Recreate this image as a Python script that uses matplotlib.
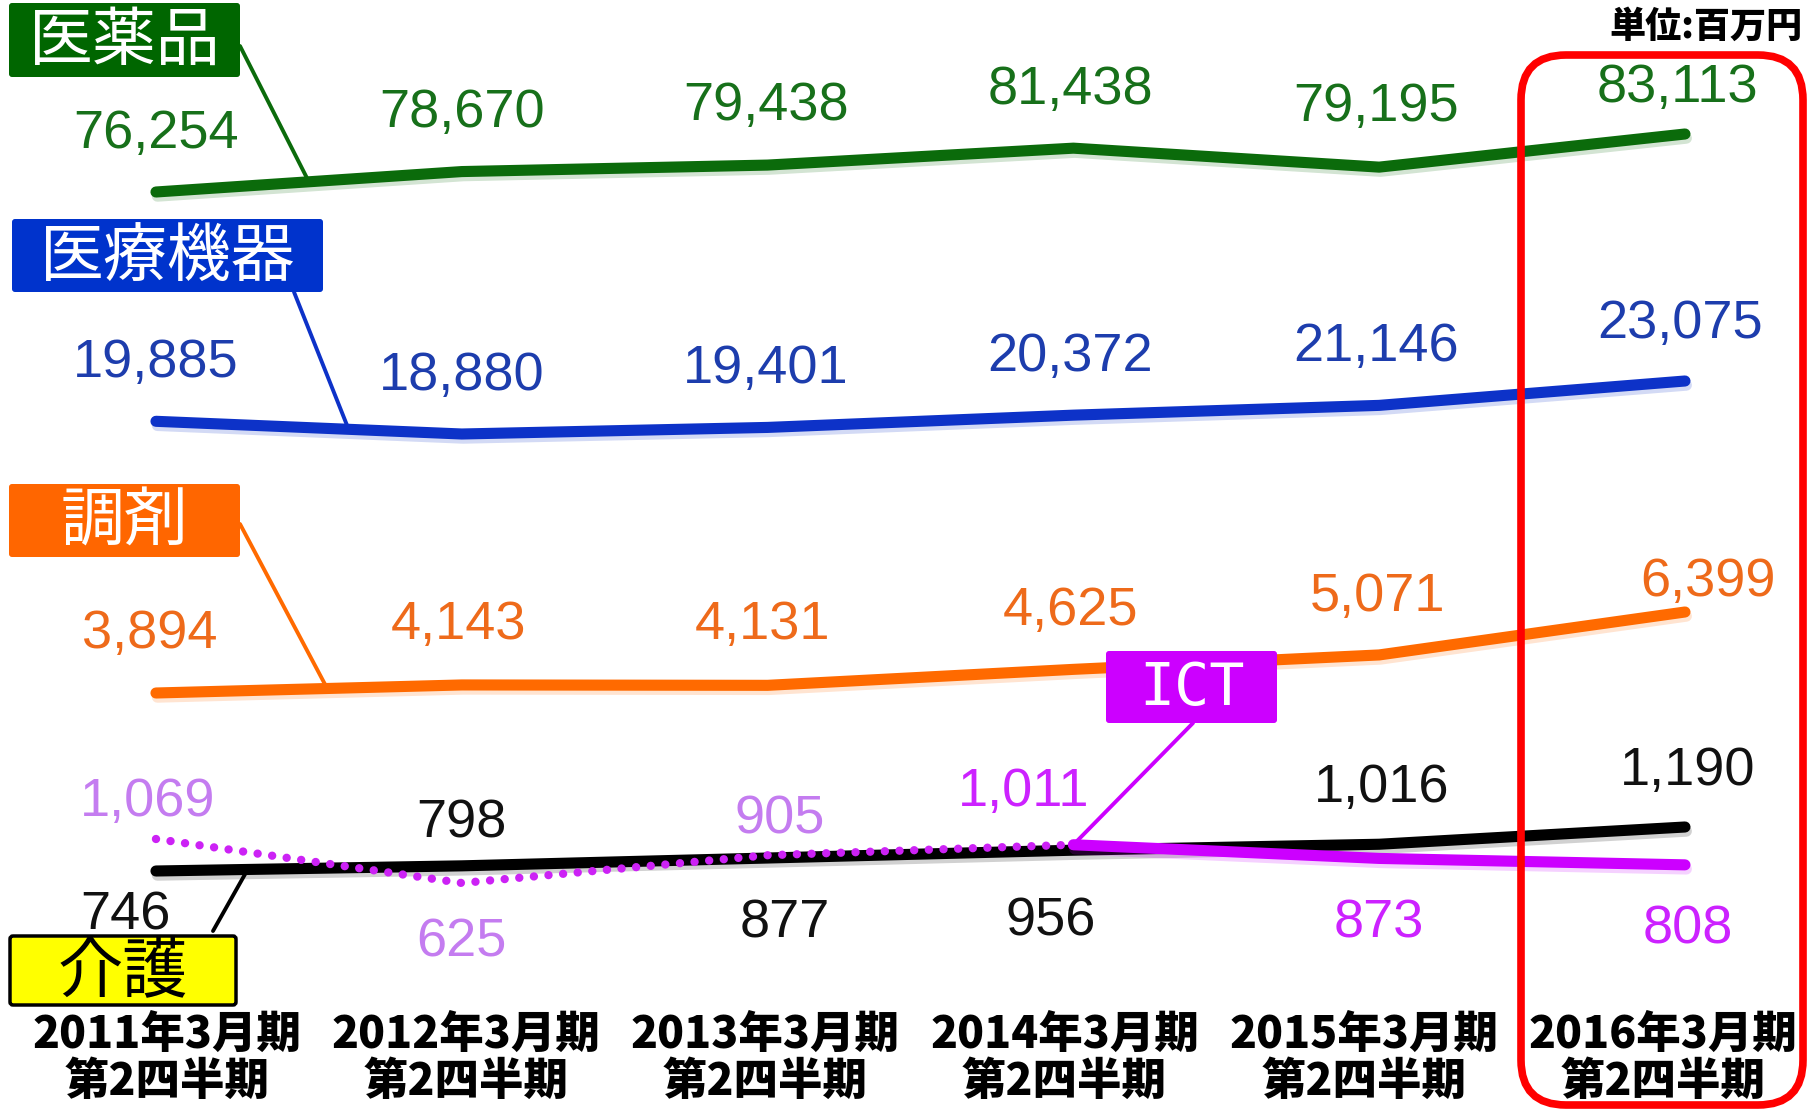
import numpy as np
import matplotlib
matplotlib.use("Agg")
import matplotlib.pyplot as plt
from matplotlib.patches import FancyBboxPatch
import matplotlib.patheffects as pe
from matplotlib import font_manager

# ---------------- data ----------------
periods = ["2011年3月期", "2012年3月期", "2013年3月期", "2014年3月期", "2015年3月期", "2016年3月期"]
quarter = "第2四半期"
pharma = [76254, 78670, 79438, 81438, 79195, 83113]      # 医薬品
devices = [19885, 18880, 19401, 20372, 21146, 23075]     # 医療機器
dispensing = [3894, 4143, 4131, 4625, 5071, 6399]        # 調剤
care = [746, 798, 877, 956, 1016, 1190]                  # 介護
ict = [1069, 625, 905, 1011, 873, 808]                   # ICT
series_names = ["医薬品", "医療機器", "調剤", "介護", "ICT"]
unit_text = "単位:百万円"

# ---------------- layout / style ----------------
W, H, DPI = 1807, 1109, 100
CJK = ["Noto Sans CJK JP", "DejaVu Sans"]
available = {f.name for f in font_manager.fontManager.ttflist}
if "Liberation Sans Narrow" in available:
    NUM_FONT, NUM_SIZE = "Liberation Sans Narrow", 44
else:
    NUM_FONT, NUM_SIZE = "Liberation Sans", 39

fig = plt.figure(figsize=(W / DPI, H / DPI), dpi=DPI)
fig.patch.set_facecolor("white")
x = np.arange(len(periods))


def band_axes(v_a, py_a, v_b, py_b, z):
    """Full-figure transparent axes; value v_a lands at pixel row py_a (from top), v_b at py_b."""
    ax = fig.add_axes([0, 0, 1, 1], zorder=z)
    ax.set_axis_off()
    ax.set_xlim(-0.51, 5.399)
    ya, yb = H - py_a, H - py_b
    s = (yb - ya) / (v_b - v_a)
    lo = v_a - ya / s
    ax.set_ylim(lo, lo + H / s)
    return ax


def shadow(color):
    return [pe.SimpleLineShadow(offset=(1, -3), shadow_color=color, alpha=0.18), pe.Normal()]


def value_labels(ax, vals, offsets, colors):
    for i, (v, (dx, dy)) in enumerate(zip(vals, offsets)):
        c = colors[i] if isinstance(colors, list) else colors
        ax.annotate(f"{v:,}", xy=(i, v), xytext=(dx, dy), textcoords="offset pixels",
                    ha="center", va="center", fontsize=NUM_SIZE, color=c,
                    family=NUM_FONT, annotation_clip=False)


def leader(ax, xf, vals, start_px, color):
    ax.annotate("", xy=(xf, np.interp(xf, x, vals)), xycoords="data",
                xytext=(start_px[0], H - start_px[1]), textcoords="figure pixels",
                arrowprops=dict(arrowstyle="-", color=color, lw=2.8, shrinkA=0, shrinkB=0),
                annotation_clip=False)


def label_box(x0, top, w, h, fc, text, tc, ec=None, lw=0, fs=45, family=None):
    p = FancyBboxPatch((x0 / DPI, (H - top - h) / DPI), w / DPI, h / DPI,
                       boxstyle="round,pad=0,rounding_size=0.03",
                       transform=fig.dpi_scale_trans, fc=fc, ec=ec if ec else fc, lw=lw, zorder=5)
    fig.add_artist(p)
    fig.text((x0 + w / 2) / W, 1 - (top + h / 2 + 2) / H, text, ha="center", va="center",
             color=tc, fontsize=fs, family=family if family else CJK, zorder=6)


LW = 8

# 医薬品
c_ph = "#0B6B0B"
ax1 = band_axes(pharma[0], 192, pharma[-1], 134, 1)
ax1.plot(x, pharma, color=c_ph, lw=LW, solid_capstyle="round", solid_joinstyle="round",
         path_effects=shadow(c_ph))
value_labels(ax1, pharma, [(0, 58), (0, 59), (-2, 59), (-3, 58), (-3, 60), (-8, 46)], "#17701A")
leader(ax1, 0.5, pharma, (240, 46), c_ph)

# 医療機器
c_dv = "#0D32C8"
ax2 = band_axes(devices[1], 434, devices[-1], 381, 2)
ax2.plot(x, devices, color=c_dv, lw=LW, solid_capstyle="round", solid_joinstyle="round",
         path_effects=shadow(c_dv))
value_labels(ax2, devices, [(0, 58), (0, 58), (-2, 58), (-3, 58), (-3, 58), (-5, 57)], "#1D3DAD")
leader(ax2, 0.63, devices, (294, 292), c_dv)

# 調剤
c_ds = "#FF6A00"
ax3 = band_axes(dispensing[0], 693, dispensing[-1], 612, 3)
ax3.plot(x, dispensing, color=c_ds, lw=LW, solid_capstyle="round", solid_joinstyle="round",
         path_effects=shadow(c_ds))
value_labels(ax3, dispensing, [(-6, 59), (-3, 60), (-5, 60), (-3, 58), (-2, 58), (23, 30)], "#EE6A1A")
leader(ax3, 0.56, dispensing, (240, 524), c_ds)

# 介護 / ICT (shared band)
c_cr = "#000000"
c_ict = "#CC00FF"
ax4 = band_axes(care[0], 871, care[-1], 827, 4)
ax4.plot(x, care, color=c_cr, lw=LW, solid_capstyle="round", solid_joinstyle="round",
         path_effects=shadow("#000000"))
ax4.plot(x[:4], ict[:4], color="#CC22F5", lw=6, linestyle=(0, (0.01, 1.75)),
         dash_capstyle="round")
ax4.plot(x[3:], ict[3:], color=c_ict, lw=LW, solid_capstyle="round", solid_joinstyle="round",
         path_effects=shadow(c_ict))
value_labels(ax4, care, [(-31, -45), (0, 42), (17, -65), (-23, -71), (2, 56), (3, 56)], "#111111")
ict_cols = ["#C47CF0", "#C47CF0", "#C47CF0", "#CC22FF", "#CC22FF", "#CC22FF"]
value_labels(ax4, ict, [(-8, 37), (0, -60), (12, 36), (-50, 53), (0, -65), (3, -65)], ict_cols)
leader(ax4, 3.0, ict, (1193, 723), c_ict)
leader(ax4, 0.3, care, (213, 931), "#000000")

# series label boxes
label_box(9, 3, 231, 74, "#006600", series_names[0], "white", fs=46)
label_box(12, 219, 311, 73, "#0033CC", series_names[1], "white", fs=46)
label_box(9, 484, 231, 73, "#FF6600", series_names[2], "white", fs=46)
label_box(1106, 651, 171, 72, "#CC00FF", series_names[4], "white", fs=42,
          family=["DejaVu Sans Mono"])
label_box(10, 936, 226, 69, "#FFFF00", series_names[3], "black", ec="black", lw=2.5, fs=47)

# x labels
for i, p in enumerate(periods):
    cx = (167 + 299.2 * i) / W
    fig.text(cx, 1 - 1034 / H, p, ha="center", va="center", fontsize=32,
             fontweight="heavy", family=CJK, zorder=6)
    fig.text(cx, 1 - 1081 / H, quarter, ha="center", va="center", fontsize=32,
             fontweight="heavy", family=CJK, zorder=6)

# unit
fig.text(1803 / W, 1 - 27 / H, unit_text, ha="right", va="center", fontsize=26,
         fontweight="heavy", family=CJK, zorder=6)

# red highlight frame
frame = FancyBboxPatch((1521 / DPI, (H - 1105) / DPI), 282 / DPI, 1050 / DPI,
                       boxstyle="round,pad=0,rounding_size=0.45",
                       transform=fig.dpi_scale_trans, fc="none", ec="#FF0000", lw=5.5, zorder=7)
fig.add_artist(frame)

fig.savefig("out.png", dpi=DPI, facecolor="white")
